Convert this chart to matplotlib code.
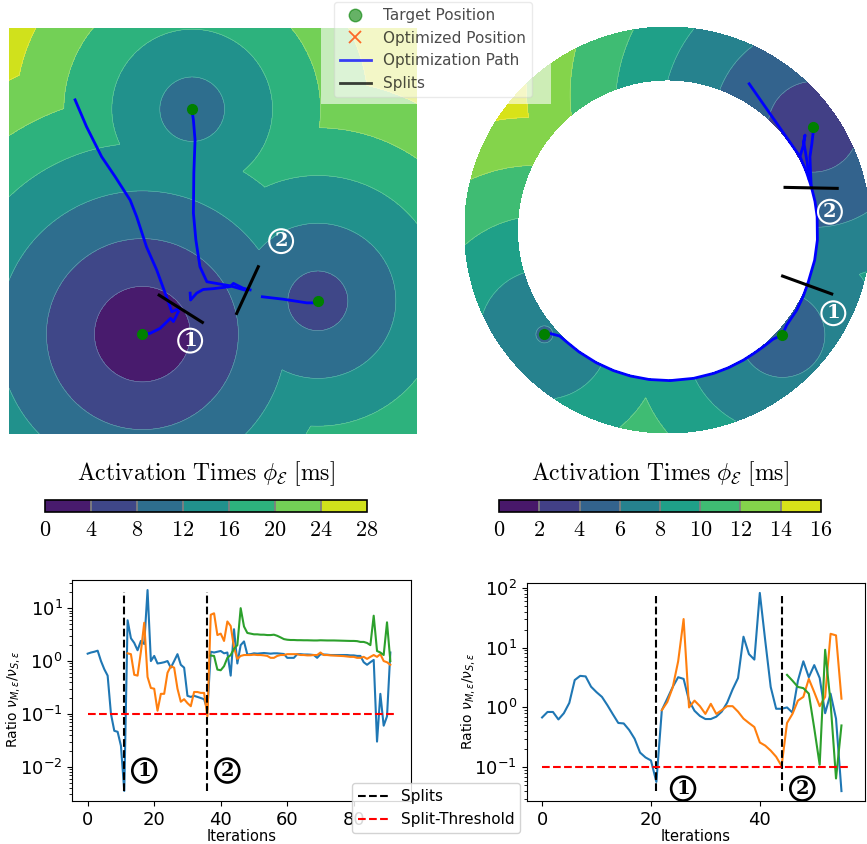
import numpy as np
import matplotlib
matplotlib.use("Agg")
import matplotlib.pyplot as plt
from matplotlib.lines import Line2D
from matplotlib.patches import Rectangle

# ------------------------------------------------------------------ data
# top-left: square domain (normalised coordinates)
sq_levels = [0, 4, 8, 12, 16, 20, 24, 28]
sq_target_x = [0.327, 0.757, 0.449]
sq_target_y = [0.246, 0.328, 0.800]
sq_target_t = [0.0, 5.5, 9.3]          # ms, activation time at each target
sq_speed = 0.0294                       # domain units per ms

sq_path_a_x = [0.162, 0.190, 0.227, 0.260, 0.297, 0.313, 0.337, 0.362, 0.386, 0.399, 0.419]
sq_path_a_y = [0.823, 0.757, 0.683, 0.634, 0.576, 0.535, 0.461, 0.404, 0.338, 0.301, 0.310]
sq_path_b_x = [0.415, 0.403, 0.396, 0.370, 0.346, 0.329]
sq_path_b_y = [0.301, 0.277, 0.285, 0.260, 0.248, 0.246]
sq_path_c_x = [0.444, 0.445, 0.460, 0.476, 0.501, 0.542, 0.550, 0.574, 0.591]
sq_path_c_y = [0.347, 0.330, 0.347, 0.356, 0.358, 0.363, 0.371, 0.359, 0.355]
sq_path_d_x = [0.583, 0.542, 0.485, 0.468, 0.458, 0.452, 0.453, 0.456, 0.452, 0.449]
sq_path_d_y = [0.353, 0.365, 0.375, 0.412, 0.478, 0.544, 0.642, 0.724, 0.773, 0.794]
sq_path_e_x = [0.621, 0.672, 0.730, 0.750, 0.757]
sq_path_e_y = [0.338, 0.332, 0.323, 0.323, 0.328]
sq_split_1_x = [0.368, 0.474]
sq_split_1_y = [0.342, 0.275]
sq_split_2_x = [0.611, 0.558]
sq_split_2_y = [0.412, 0.297]

# top-right: ring domain (polar, degrees / radius with outer radius = 1)
ring_levels = [0, 2, 4, 6, 8, 10, 12, 14, 16]
ring_inner = 0.739
ring_target_theta = [220.3, -42.4, 35.3]
ring_target_r = [0.795, 0.766, 0.880]
ring_target_t = [5.7, 4.5, 2.4]
ring_speed = 0.14

ring_path_a_theta = [60.8, 44.3, 29.0, 23.0, 16.9, 11.0, 5.1, -3.8, -11.6, -21.0]
ring_path_a_r = [0.825, 0.752, 0.746, 0.742, 0.740, 0.740, 0.740, 0.740, 0.740, 0.740]
ring_path_b_theta = [-21.0, -26.0, -31.8, -38.6, -42.4]
ring_path_b_r = [0.740, 0.744, 0.749, 0.751, 0.766]
ring_path_c_theta = [-42.4, -46.0, -50.6, -55.0, -59.8, -66.0, -72.1, -80.0, -89.0, -97.0,
                     -104.3, -111.0, -118.3, -126.0, -132.0, -135.5, -138.5, -139.7]
ring_path_c_r = [0.766, 0.748, 0.744, 0.742, 0.742, 0.742, 0.742, 0.742, 0.742, 0.742,
                 0.742, 0.742, 0.742, 0.742, 0.742, 0.745, 0.770, 0.795]
ring_path_d_theta = [16.9, 22.0, 27.2, 31.0, 34.4, 35.3]
ring_path_d_r = [0.740, 0.760, 0.789, 0.830, 0.871, 0.880]
ring_path_e_theta = [29.0, 32.0, 34.6, 33.0, 26.0, 20.0]
ring_path_e_r = [0.746, 0.790, 0.823, 0.800, 0.765, 0.742]
ring_split_1_x = [0.567, 0.809]
ring_split_1_y = [-0.227, -0.315]
ring_split_2_x = [0.579, 0.836]
ring_split_2_y = [0.210, 0.205]

# bottom-left: ratio per iteration (square domain)
left_splits = [11, 36]
left_blue = [1.38, 1.45, 1.5, 1.57, 1.0, 0.7, 0.53, 0.1, 0.048, 0.046, 0.025, 0.0035,
             5.9, 2.7, 2.2, 1.6, 2.4, 2.1, 22.0, 1.0, 1.25, 0.9,
             0.92, 0.95, 1.0, 0.75, 1.0, 1.35, 0.85, 0.75, 0.22, 0.21,
             0.22, 0.21, 0.2, 0.19, 0.12,
             1.5, 1.45, 1.5, 1.55, 1.4, 1.45, 0.53, 4.0, 0.9, 2.0, 2.35, 1.33,
             1.35, 1.4, 1.38, 1.4, 1.42, 1.4, 1.38, 1.4, 1.4, 1.38, 1.36,
             1.15, 1.15, 1.15, 1.35, 1.35, 1.33, 1.33, 1.32, 1.3, 1.15,
             1.35, 1.33, 1.32, 1.3, 1.3, 1.3, 1.3,
             1.3, 1.3, 1.28, 1.28, 1.25, 1.25, 0.95, 0.85, 0.95, 1.05, 0.03, 0.24, 0.06, 0.09, 1.45]
left_orange_start = 12
left_orange = [1.4, 1.35, 0.55, 0.53, 1.5, 5.3, 0.5, 0.31, 0.3, 0.115, 0.24, 0.24, 0.6,
               0.8, 0.75, 0.3, 0.17, 0.19, 0.16, 0.14, 0.26, 0.26, 0.25, 0.25, 0.09,
               7.5, 8.0, 3.1, 3.3, 2.4, 5.6, 4.6, 1.8, 1.1, 1.25, 1.3,
               1.3, 1.3, 1.32, 1.3, 1.3, 1.28, 1.25, 1.15, 1.15, 1.25, 1.3,
               1.3, 1.35, 1.35, 1.35, 1.35, 1.3, 1.3, 1.28, 1.28, 1.3, 1.3,
               1.45, 1.3, 1.3, 1.28, 1.27, 1.26, 1.25, 1.24, 1.22, 1.2, 1.2,
               1.15, 1.15, 1.2, 1.1, 1.2, 1.3, 1.2, 1.35, 1.0, 0.95, 0.85]
left_green_start = 37
left_green = [1.27, 1.25, 0.69, 0.67, 0.8, 1.15, 1.3, 1.7, 2.0, 10.0, 4.5,
              3.4, 3.3, 3.2, 3.2, 3.15, 3.15, 3.1, 3.1, 3.15, 3.0, 2.8,
              2.6, 2.53, 2.5, 2.5, 2.48, 2.48, 2.47, 2.47, 2.46, 2.45, 2.45,
              2.47, 2.46, 2.45, 2.45, 2.45, 2.44, 2.43, 2.42, 2.41, 2.4, 2.4,
              2.38, 2.3, 2.3, 2.2, 2.0, 7.2, 1.55, 1.45, 1.3, 5.4, 1.0]

# bottom-right: ratio per iteration (ring domain)
right_splits = [21, 44]
right_blue = [0.68, 0.84, 0.84, 0.63, 0.8, 1.19, 2.87, 3.37, 3.3, 2.22,
              1.8, 1.5, 1.09, 0.77, 0.55, 0.54, 0.42, 0.3, 0.176, 0.146,
              0.13, 0.057, 0.9, 1.4, 2.2, 3.2, 3.0, 1.3, 0.88, 0.72,
              0.64, 0.64, 0.7, 0.85, 1.2, 2.0, 3.1, 15.2, 7.8, 6.3,
              82.0, 13.0, 2.2, 0.95, 0.95, 1.0, 0.82, 2.8, 5.9, 3.2,
              5.1, 3.1, 0.8, 1.7, 0.65, 0.04]
right_orange_start = 22
right_orange = [0.9, 1.23, 2.16, 5.9, 30.0, 1.0, 1.3, 1.05, 0.78, 1.15,
                0.78, 0.9, 1.05, 1.05, 0.85, 0.65, 0.55, 0.47, 0.26, 0.23,
                0.19, 0.15, 0.105, 0.55, 0.78, 1.3, 1.5, 3.0, 1.8, 1.05,
                1.5, 17.0, 16.0, 1.4]
right_green_start = 45
right_green = [3.5, 2.8, 2.2, 2.1, 1.7, 0.45, 0.11, 9.2, 1.2, 0.065, 0.5]

split_threshold = 0.1

# ------------------------------------------------------------------ figure
W, H = 867, 844
fig = plt.figure(figsize=(W / 100, H / 100), dpi=100)


def px_axes(x0, y0, x1, y1):
    return fig.add_axes([x0 / W, 1 - y1 / H, (x1 - x0) / W, (y1 - y0) / H])


def circled(ax, x, y, s, color, fs, lw):
    ax.text(x, y, s, ha="center", va="center", fontsize=fs, fontweight="bold",
            family="DejaVu Serif", color=color, zorder=10,
            bbox=dict(boxstyle="circle,pad=0.15", fc="none", ec=color, lw=lw))


# ---------------- top-left square
ax1 = px_axes(9, 28, 417, 434)
gx = np.linspace(0, 1, 500)
X, Y = np.meshgrid(gx, gx)
T = np.min([t + np.hypot(X - x0, Y - y0) / sq_speed
            for x0, y0, t in zip(sq_target_x, sq_target_y, sq_target_t)], axis=0)
T = np.clip(T, 0, sq_levels[-1] - 0.01)
cf1 = ax1.contourf(X, Y, T, levels=sq_levels, cmap="viridis")
ax1.contour(X, Y, T, levels=sq_levels[1:-1], colors="white", linewidths=0.4, alpha=0.35)
for px_, py_ in [(sq_path_a_x, sq_path_a_y), (sq_path_b_x, sq_path_b_y), (sq_path_c_x, sq_path_c_y),
                 (sq_path_d_x, sq_path_d_y), (sq_path_e_x, sq_path_e_y)]:
    ax1.plot(px_, py_, color="blue", lw=2, zorder=4)
for sx, sy in [(sq_split_1_x, sq_split_1_y), (sq_split_2_x, sq_split_2_y)]:
    ax1.plot(sx, sy, color="black", lw=2.2, zorder=5)
ax1.plot(sq_target_x, sq_target_y, ls="none", marker="x", color="red", ms=5, mew=1, zorder=6)
ax1.plot(sq_target_x, sq_target_y, ls="none", marker="o", color="green", ms=7, zorder=7)
circled(ax1, 0.444, 0.230, "1", "white", 14, 1.5)
circled(ax1, 0.667, 0.475, "2", "white", 14, 1.5)
ax1.set_xlim(0, 1)
ax1.set_ylim(0, 1)
ax1.axis("off")

# ---------------- top-right ring
ax2 = px_axes(464.5, 27, 870.5, 433)
th = np.linspace(-np.pi, np.pi, 1081)
rr = np.linspace(ring_inner, 1.0, 120)
TH, RR = np.meshgrid(th, rr)
fields = []
for ths, rs, t in zip(ring_target_theta, ring_target_r, ring_target_t):
    dth = np.angle(np.exp(1j * (TH - np.deg2rad(ths))))
    d = np.hypot(dth * (RR + rs) / 2, RR - rs)
    fields.append(t + d / ring_speed)
TR = np.clip(np.min(fields, axis=0), 0, ring_levels[-1] - 0.01)
XR, YR = RR * np.cos(TH), RR * np.sin(TH)
cf2 = ax2.contourf(XR, YR, TR, levels=ring_levels, cmap="viridis")
ax2.contour(XR, YR, TR, levels=ring_levels[1:-1], colors="white", linewidths=0.4, alpha=0.35)


def pol(theta, r):
    a = np.deg2rad(theta)
    return np.asarray(r) * np.cos(a), np.asarray(r) * np.sin(a)


for pt, pr in [(ring_path_a_theta, ring_path_a_r), (ring_path_b_theta, ring_path_b_r),
               (ring_path_c_theta, ring_path_c_r), (ring_path_d_theta, ring_path_d_r),
               (ring_path_e_theta, ring_path_e_r)]:
    xx, yy = pol(pt, pr)
    ax2.plot(xx, yy, color="blue", lw=2, zorder=4)
for sx, sy in [(ring_split_1_x, ring_split_1_y), (ring_split_2_x, ring_split_2_y)]:
    ax2.plot(sx, sy, color="black", lw=2.2, zorder=5)
tx, ty = pol(ring_target_theta, ring_target_r)
ax2.plot(tx, ty, ls="none", marker="x", color="red", ms=5, mew=1, zorder=6)
ax2.plot(tx, ty, ls="none", marker="o", color="green", ms=7, zorder=7)
circled(ax2, 0.817, -0.41, "1", "white", 14, 1.5)
circled(ax2, 0.80, 0.09, "2", "white", 14, 1.5)
ax2.set_xlim(-1, 1)
ax2.set_ylim(-1, 1)
ax2.axis("off")

# ---------------- colorbars
title = r"$\mathrm{Activation\ Times}\ \phi_{\mathcal{E}}\ [\mathrm{ms}]$"
for cf, levels, (x0, x1) in [(cf1, sq_levels, (45, 367)), (cf2, ring_levels, (499, 821))]:
    cax = px_axes(x0, 500, x1, 512)
    cb = fig.colorbar(cf, cax=cax, orientation="horizontal")
    cb.set_ticks([])
    cb.outline.set_linewidth(1.2)
    for lv in levels[1:-1]:
        cax.axvline(lv, color="grey", lw=1.3)
    for lv in levels:
        cax.text(lv, -1.5, f"${lv}$", transform=cax.get_xaxis_transform(), ha="center",
                 va="center", fontsize=16, math_fontfamily="cm")
    fig.text((x0 + x1) / 2 / W, 1 - 474 / H, title, ha="center", va="center",
             fontsize=17, math_fontfamily="cm")


# ---------------- bottom ratio plots
def ratio_plot(ax, blue, orange_start, orange, green_start, green, splits, lab_y, lab_dx):
    ax.plot(np.arange(len(blue)), blue, color="C0", lw=1.5)
    ax.plot(np.arange(orange_start, orange_start + len(orange)), orange, color="C1", lw=1.5)
    ax.plot(np.arange(green_start, green_start + len(green)), green, color="C2", lw=1.5)
    allv = np.concatenate([blue, orange, green])
    vl = ax.vlines(splits, allv.min(), 0.9 * allv.max(), colors="black", linestyles="--", lw=1.5, zorder=5)
    hl = ax.hlines(split_threshold, 0, len(blue) + 0.5, colors="red", linestyles="--", lw=1.5, zorder=5)
    ax.set_yscale("log")
    ax.set_xlabel("Iterations", fontsize=10.5, labelpad=0)
    ax.set_ylabel(r"Ratio $\nu_{M,\varepsilon}/\nu_{S,\varepsilon}$", fontsize=10)
    ax.yaxis.set_label_coords(-0.148, 0.46)
    ax.tick_params(labelsize=13)
    for s, num, dx in zip(splits, ["1", "2"], lab_dx):
        circled(ax, s + dx, lab_y, num, "black", 14, 1.9)
    return vl, hl


ax3 = px_axes(72.3, 580, 410.7, 801)
vl, hl = ratio_plot(ax3, left_blue, left_orange_start, left_orange, left_green_start, left_green,
                    left_splits, 0.0085, [6, 6])
ax4 = px_axes(526.7, 583, 865, 801)
ratio_plot(ax4, right_blue, right_orange_start, right_orange, right_green_start, right_green,
           right_splits, 0.044, [4.9, 3.8])

# ---------------- legends
fig.patches.append(Rectangle((321 / W, 1 - 104 / H), 230 / W, 104 / H, transform=fig.transFigure,
                             fc="white", ec="none", alpha=0.6, zorder=1))
handles = [Line2D([], [], ls="none", marker="o", color="green", alpha=0.6, ms=9),
           Line2D([], [], ls="none", marker="x", color="orangered", ms=9, mew=1.3, alpha=0.8),
           Line2D([], [], color="blue", lw=2, alpha=0.75),
           Line2D([], [], color="black", lw=2, alpha=0.75)]
leg = fig.legend(handles, ["Target Position", "Optimized Position", "Optimization Path", "Splits"],
                 loc="upper center", bbox_to_anchor=(433 / W, 1 - 2 / H), fontsize=11,
                 framealpha=0.4, borderaxespad=0)
for t in leg.get_texts():
    t.set_alpha(0.7)

fig.legend([vl, hl], ["Splits", "Split-Threshold"], loc="lower center",
           bbox_to_anchor=(436 / W, 11 / H), fontsize=11, framealpha=0.85, borderaxespad=0)

fig.savefig("out.png", dpi=100)
